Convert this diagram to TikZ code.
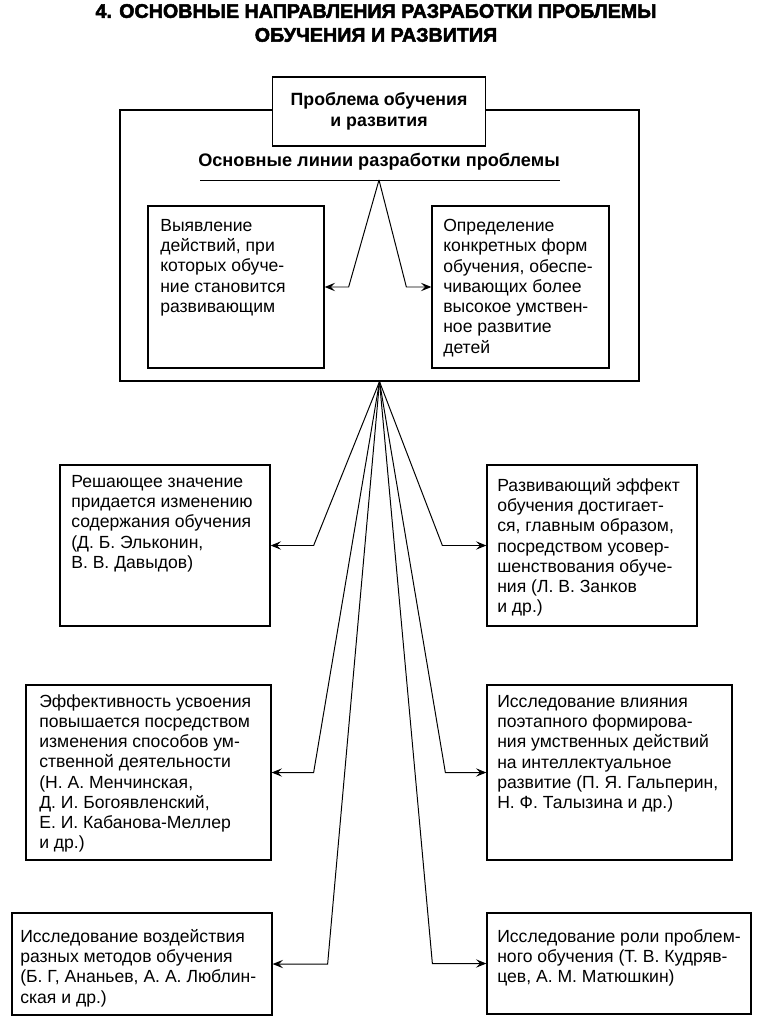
\documentclass[tikz,border=0pt]{standalone}
\usepackage{fontspec}
\setmainfont{Liberation Sans}
\newfontfamily\titlefont{Liberation Sans}[FakeBold=2.6]
\usetikzlibrary{arrows.meta,calc,fit}

\tikzset{
  frame/.style={draw,line width=0.9pt,inner sep=0pt},
  box/.style={draw,line width=0.9pt,inner sep=0pt},
  txt/.style={anchor=north west,inner sep=0pt,align=left,font=\fontsize{12.5}{14.4}\selectfont},
  link/.style={line width=0.7pt,-{Stealth[length=7.5pt,width=6pt,inset=3pt]}}
}

\begin{document}
\begin{tikzpicture}[x=0.025cm,y=-0.025cm]
\useasboundingbox (0,0) rectangle (764,1024);

% title
\node[font=\titlefont\bfseries\fontsize{14}{17}\selectfont,align=center] (title) at (376,23)
  {4. ОСНОВНЫЕ НАПРАВЛЕНИЯ РАЗРАБОТКИ ПРОБЛЕМЫ\\ОБУЧЕНИЯ И РАЗВИТИЯ};

% big frame with the problem box on its top edge
\node[frame,fit={(120,110) (639,381)}] (frame) {};
\node[box,fill=white,minimum width=151.7pt,minimum height=48.9pt,align=center,
      font=\bfseries\fontsize{12.6}{15}\selectfont] (prob) at (379,111.5) {Проблема обучения\\и развития};
\node[font=\bfseries\fontsize{12.9}{14.4}\selectfont] (head) at (379,162) {Основные линии разработки проблемы};
\coordinate (apex) at (379,180);
\draw[line width=0.7pt] (200,180) -- (560,180);

% two main lines
\node[box,fit={(148,206) (324,368)}] (tl) {};
\node[txt] (tlt) at (160,219) {Выявление\\действий, при\\которых обуче-\\ние становится\\развивающим};
\node[box,fit={(432,206) (609,368)}] (tr) {};
\node[txt] (trt) at (443,219) {Определение\\конкретных форм\\обучения, обеспе-\\чивающих более\\высокое умствен-\\ное развитие\\детей};

% directions
\node[box,fit={(60,465) (270,626)}] (l1) {};
\node[txt] (l1t) at (71,475) {Решающее значение\\придается изменению\\содержания обучения\\(Д. Б. Эльконин,\\В. В. Давыдов)};
\node[box,fit={(487,465) (697,626)}] (r1) {};
\node[txt] (r1t) at (497,478) {Развивающий эффект\\обучения достигает-\\ся, главным образом,\\посредством усовер-\\шенствования обуче-\\ния (Л. В. Занков\\и др.)};
\node[box,fit={(26,685) (271,860)}] (l2) {};
\node[txt] (l2t) at (39,694) {Эффективность усвоения\\повышается посредством\\изменения способов ум-\\ственной деятельности\\(Н. А. Менчинская,\\Д. И. Богоявленский,\\Е. И. Кабанова-Меллер\\и др.)};
\node[box,fit={(487,685) (732,860)}] (r2) {};
\node[txt] (r2t) at (497,695) {Исследование влияния\\поэтапного формирова-\\ния умственных действий\\на интеллектуальное\\развитие (П. Я. Гальперин,\\Н. Ф. Талызина и др.)};
\node[box,fit={(12,913) (272,1015)}] (l3) {};
\node[txt] (l3t) at (20,929) {Исследование воздействия\\разных методов обучения\\(Б. Г, Ананьев, А. А. Люблин-\\ская и др.)};
\node[box,fit={(487,913) (751,1014)}] (r3) {};
\node[txt] (r3t) at (497,929) {Исследование роли проблем-\\ного обучения (Т. В. Кудряв-\\цев, А. М. Матюшкин)};

% connectors
\draw[link] (apex) -- ($(tl.east)+(24,0)$) -- (tl.east);
\draw[link] (apex) -- ($(tr.west)+(-25,0)$) -- (tr.west);
\draw[link] (frame.south) -- ($(l1.east)+(43,0)$) -- (l1.east);
\draw[link] (frame.south) -- ($(l2.east)+(42,0)$) -- (l2.east);
\draw[link] (frame.south) -- ($(l3.east)+(55,0)$) -- (l3.east);
\draw[link] (frame.south) -- ($(r1.west)+(-44,0)$) -- (r1.west);
\draw[link] (frame.south) -- ($(r2.west)+(-41,0)$) -- (r2.west);
\draw[link] (frame.south) -- ($(r3.west)+(-54,0)$) -- (r3.west);
\end{tikzpicture}
\end{document}
